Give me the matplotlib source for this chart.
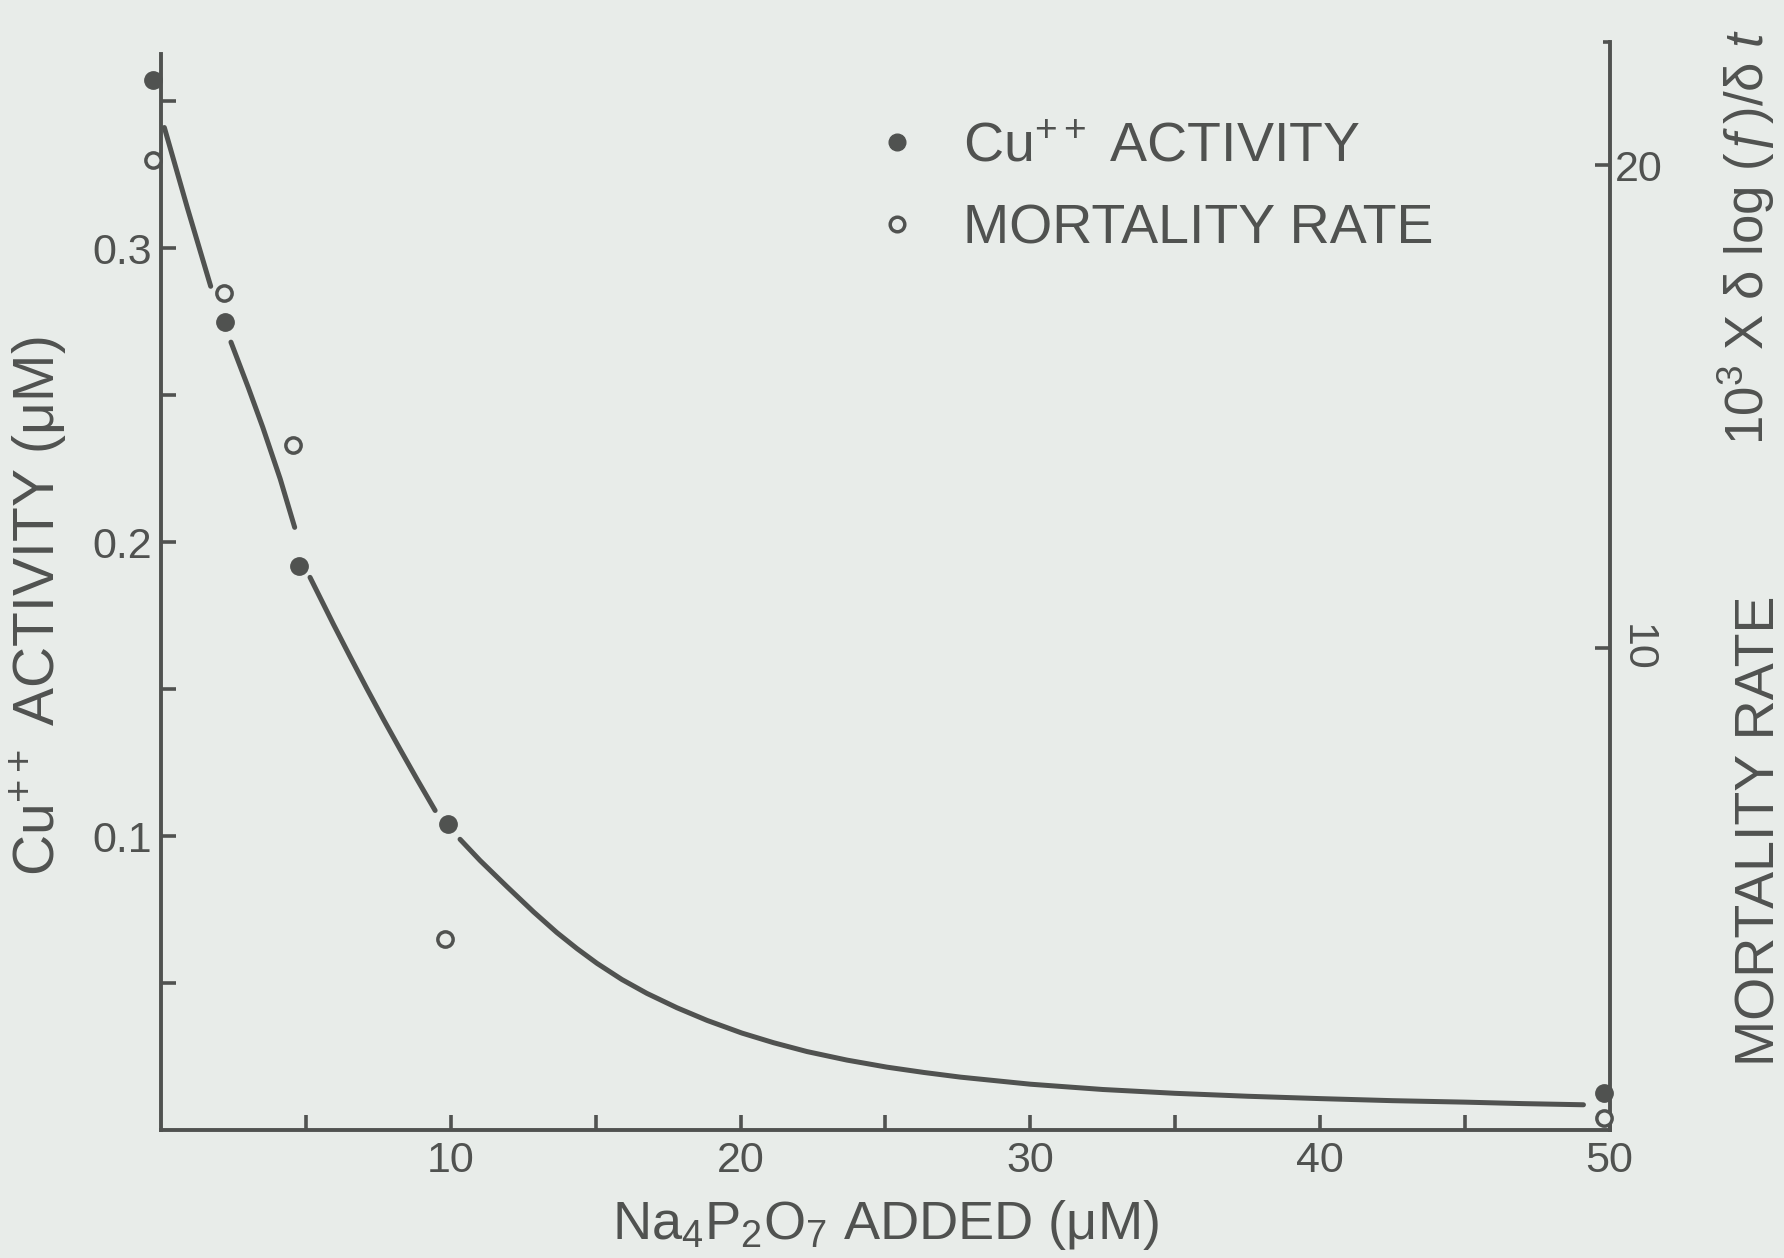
import numpy as np
import matplotlib.pyplot as plt
from matplotlib.lines import Line2D

plt.rcParams['font.family'] = ['Liberation Sans', 'DejaVu Sans']
plt.rcParams['mathtext.fontset'] = 'custom'
plt.rcParams['mathtext.rm'] = 'Liberation Sans'
plt.rcParams['mathtext.it'] = 'Liberation Sans:italic'
plt.rcParams['mathtext.sf'] = 'Liberation Sans'

INK = '#505250'
PAPER = '#e8ece9'

# Na4P2O7 added (uM) and measured values
na_cu = [-0.3, 2.2, 4.75, 9.9, 49.8]
cu_activity = [0.357, 0.275, 0.192, 0.104, 0.0125]        # uM
na_mort = [-0.3, 2.15, 4.55, 9.8, 49.8]
mortality = [20.1, 17.35, 14.2, 3.95, 0.26]              # 10^3 x dlog(f)/dt

# hand-drawn fit through the Cu++ points (broken around each dot)
fit_x = [0.1, 0.9, 1.7, np.nan,
         2.4, 3.0, 3.5, 4.1, 4.6, np.nan,
         5.13, 5.94, 6.51, 7.09, 7.67, 8.24, 8.82, 9.45, np.nan,
         10.31, 11.0, 11.93, 12.85, 13.65, 14.35, 15.04, 15.9, 16.76,
         17.8, 18.84, 20.04, 21.14, 22.29, 23.67, 25.05, 26.32, 27.59,
         30.0, 32.5, 35.0, 37.5, 40.0, 42.5, 45.0, 47.0, 49.1]
fit_y = [0.341, 0.3135, 0.287, np.nan,
         0.268, 0.2525, 0.239, 0.2215, 0.205, np.nan,
         0.188, 0.172, 0.1611, 0.1502, 0.1396, 0.1295, 0.1194, 0.1087, np.nan,
         0.0989, 0.0917, 0.0828, 0.0742, 0.0672, 0.0617, 0.0567, 0.0512, 0.0465,
         0.0416, 0.0373, 0.0330, 0.0297, 0.0267, 0.0238, 0.0214, 0.0196, 0.0180,
         0.0156, 0.0138, 0.0125, 0.0115, 0.0107, 0.0100, 0.0095, 0.0090, 0.0086]

x_major = [10, 20, 30, 40, 50]
x_minor = [5, 15, 25, 35, 45]
y_left_ticks = [0.05, 0.1, 0.15, 0.2, 0.25, 0.3, 0.35]
y_left_labels = ['', '0.1', '', '0.2', '', '0.3', '']
y_right_ticks = [10, 20]
y_right_labels = ['', '20']

fig = plt.figure(figsize=(17.84, 12.58), dpi=100, facecolor=PAPER)
ax = fig.add_axes([0.0905, 0.1017, 0.8117, 0.8647])
ax.set_facecolor('none')
ax2 = ax.twinx()

ax.set_xlim(0, 50)
ax.set_ylim(0, 0.37)
ax2.set_ylim(0, 0.37 * 2940 / 48.25)

ax.plot(fit_x, fit_y, color=INK, lw=3.6, solid_capstyle='round')
ax.plot(na_cu, cu_activity, 'o', color=INK, ms=12.5, clip_on=False, zorder=5)
ax2.plot(na_mort, mortality, 'o', mfc=PAPER, mec=INK, mew=2.5, ms=11,
         clip_on=False, zorder=5)

# spines
for a in (ax, ax2):
    a.spines['top'].set_visible(False)
    for s in a.spines.values():
        s.set_color(INK)
        s.set_linewidth(2.8)
ax.spines['right'].set_visible(False)
ax2.spines['left'].set_visible(False)
ax2.spines['bottom'].set_visible(False)
ax.spines['left'].set_bounds(0, 0.366)

# ticks
ax.set_xticks(x_major, [str(v) for v in x_major])
ax.set_xticks(x_minor, minor=True)
ax.set_yticks(y_left_ticks, y_left_labels)
ax.tick_params(axis='both', which='both', direction='in', length=11, width=2.6,
               color=INK, labelcolor=INK, labelsize=31)
ax.tick_params(axis='x', pad=8)
ax.tick_params(axis='y', pad=7)

ax2.set_yticks(y_right_ticks, y_right_labels)
ax2.set_yticks([ax2.get_ylim()[1]], minor=True)
ax2.tick_params(axis='y', which='major', direction='in', length=11, width=2.6,
                color=INK, labelcolor=INK, labelsize=31, pad=4)
ax2.tick_params(axis='y', which='minor', direction='in', length=5, width=2.6,
                color=INK)
# the "10" on the right scale is lettered sideways
ax2.text(1.005, y_right_ticks[0], '10', transform=ax2.get_yaxis_transform(),
         rotation=-90, fontsize=31, color=INK, ha='left', va='center')

ax.set_xlabel('Na$_4$P$_2$O$_7$ ADDED (μM)', fontsize=39, color=INK, labelpad=12)
ax.set_ylabel('Cu$^{++}$ ACTIVITY (μM)', fontsize=41, color=INK)
ax.yaxis.set_label_coords(-0.064, 0.482)

fig.text(0.987, 0.34, 'MORTALITY RATE', rotation=90, fontsize=40, color=INK,
         ha='center', va='center')
fig.text(0.979, 0.812, '10$^3$ X δ log (ƒ)/δ $t$', rotation=90, fontsize=38,
         color=INK, ha='center', va='center')

handles = [
    Line2D([], [], ls='none', marker='o', color=INK, ms=12),
    Line2D([], [], ls='none', marker='o', mfc=PAPER, mec=INK, mew=2.5, ms=10.5),
]
leg = ax.legend(handles, ['Cu$^{++}$ ACTIVITY', 'MORTALITY RATE'],
                loc='upper left', bbox_to_anchor=(0.479, 0.953),
                frameon=False, fontsize=40, handlelength=0.5,
                handletextpad=0.95, labelspacing=0.55, borderpad=0)
for t in leg.get_texts():
    t.set_color(INK)

fig.savefig('out.png', dpi=100, facecolor=PAPER)
